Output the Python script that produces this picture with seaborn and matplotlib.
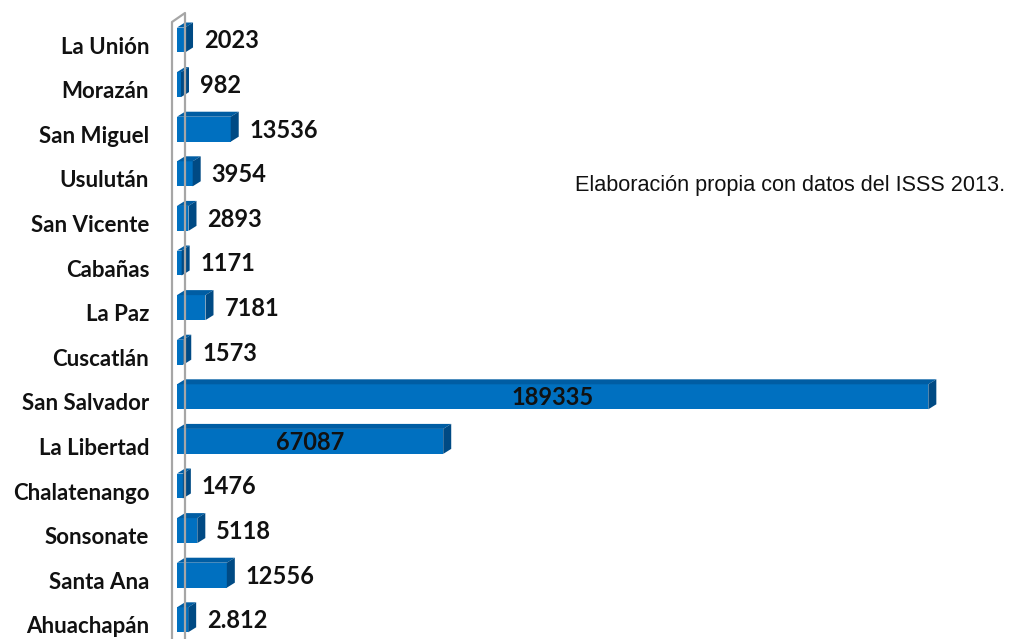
import matplotlib
matplotlib.use("Agg")
import matplotlib.pyplot as plt
from matplotlib.patches import Polygon
from matplotlib.lines import Line2D
from matplotlib.transforms import ScaledTranslation
import seaborn as sns
import pandas as pd

departamentos = ["La Unión", "Morazán", "San Miguel", "Usulután", "San Vicente",
                 "Cabañas", "La Paz", "Cuscatlán", "San Salvador", "La Libertad",
                 "Chalatenango", "Sonsonate", "Santa Ana", "Ahuachapán"]
afiliados = [2023, 982, 13536, 3954, 2893, 1171, 7181, 1573, 189335, 67087,
             1476, 5118, 12556, 2812]
etiquetas = ["2023", "982", "13536", "3954", "2893", "1171", "7181", "1573",
             "189335", "67087", "1476", "5118", "12556", "2.812"]
nota = "Elaboración propia con datos del ISSS 2013."

df = pd.DataFrame({"depto": departamentos, "valor": afiliados})

sns.set_style("white")
plt.rcParams["font.family"] = ["Lato", "DejaVu Sans"]

W, H = 1009, 639
fig = plt.figure(figsize=(W / 100, H / 100), dpi=100)
# zero at x=177px, 252 units per px; rows 44.6 px apart
x0, upp = 177, 252.0
row = 44.6
top = 40 - row / 2
xmax = (W - x0) * upp
ax = fig.add_axes([x0 / W, (H - top - 14 * row) / H, (W - x0) / W, 14 * row / H])

front = "#0070C0"
sns.barplot(data=df, x="valor", y="depto", orient="h", color=front,
            saturation=1, width=0.56, ax=ax, linewidth=0)
ax.set_xlim(0, xmax)
ax.set_ylim(13.5, -0.5)
ax.set_xlabel("")
ax.set_ylabel("")
ax.set_xticks([])
sns.despine(ax=ax, left=True, bottom=True)
ax.tick_params(axis="y", length=0, pad=20)
shift = ScaledTranslation(0, -5 / 100, fig.dpi_scale_trans)
for t in ax.get_yticklabels():
    t.set_fontweight("bold")
    t.set_fontsize(16)
    t.set_color("#111111")
    t.set_transform(t.get_transform() + shift)

# left wall of the 3D plot area
gray = "#a6a6a6"
fig.add_artist(Line2D([172 / W, 172 / W, 185 / W, 185 / W],
                      [0, 1 - 22 / H, 1 - 13 / H, 0], color=gray, lw=1.6))

# fake depth on each bar
fig.canvas.draw()
inv = ax.transData.inverted()
dx, dy = 8, 5
for p, lab, v in zip(ax.patches, etiquetas, afiliados):
    x, y, w, h = p.get_x(), p.get_y(), p.get_width(), p.get_height()
    (ax_, ay_top), (bx_, by_bot) = ax.transData.transform([(x, y), (x + w, y + h)])
    ytop = max(ay_top, by_bot)
    ybot = min(ay_top, by_bot)
    xl, xr = ax_, bx_
    if xr - xl < 4:
        xr = xl + 4
        p.set_width(inv.transform((xr, 0))[0] - inv.transform((xl, 0))[0])
    topface = [(xl, ytop), (xr, ytop), (xr + dx, ytop + dy), (xl + dx, ytop + dy)]
    side = [(xr, ytop), (xr + dx, ytop + dy), (xr + dx, ybot + dy), (xr, ybot)]
    ax.add_patch(Polygon(inv.transform(topface), closed=True, color="#005DA3", lw=0))
    ax.add_patch(Polygon(inv.transform(side), closed=True, color="#004A84", lw=0))
    yc = y + h / 2
    if v > 50000:
        ax.text(v / 2, yc + 0.02, lab, ha="center", va="center", fontsize=17,
                fontweight="bold", color="#111111")
    else:
        xt = inv.transform((xr + 19, 0))[0]
        ax.text(xt, yc + 0.02, lab, ha="left", va="center", fontsize=17,
                fontweight="bold", color="#111111")

fig.text(1005 / W, 1 - 185 / H, nota, ha="right", va="center", fontsize=15.6,
         family=["Liberation Sans Narrow", "Liberation Sans", "DejaVu Sans"],
         color="#111111")

fig.savefig("out.png", dpi=100)
